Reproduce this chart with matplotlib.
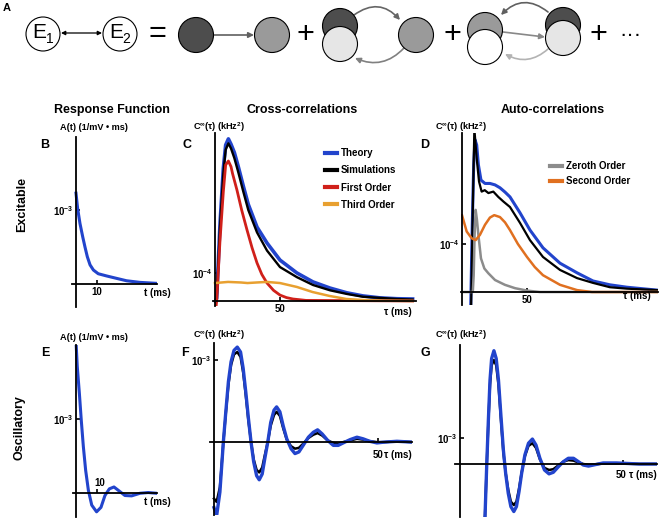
import matplotlib
matplotlib.use('Agg')
import matplotlib.pyplot as plt
from matplotlib.patches import Circle, FancyArrowPatch
import numpy as np

plt.rcParams['font.family'] = ['Liberation Sans', 'DejaVu Sans']
plt.rcParams['mathtext.fontset'] = 'custom'
plt.rcParams['mathtext.rm'] = 'Liberation Sans:bold'
plt.rcParams['mathtext.it'] = 'Liberation Sans:bold'
plt.rcParams['mathtext.bf'] = 'Liberation Sans:bold'

# ---------------- data ----------------
# B: excitable response function, A(t) in units of 1e-3 1/(mV ms)
exc_resp_t = [0, 0.8, 1.9, 3.2, 4.3, 5.4, 6.7, 8.3, 10.6, 14.6, 19.4, 24.1, 30.5, 38.4]
exc_resp_A = [1.23, 1.02, 0.82, 0.64, 0.50, 0.37, 0.26, 0.19, 0.14, 0.11, 0.077, 0.045, 0.023, 0.01]

# C: excitable cross-correlations, units of 1e-4 kHz^2
cross_tau_theory = [0.5, 1.3, 3.8, 6.4, 8.2, 10.3, 12.3, 14.9, 17.9, 21.8, 25.6, 32.3, 40, 50, 63, 75.4, 88.5, 101.5, 113.8, 127, 140, 152]
cross_theory = [0, 0.1, 2.71, 4.74, 5.57, 5.79, 5.6, 5.3, 4.8, 4.1, 3.45, 2.64, 2.07, 1.46, 1.0, 0.68, 0.46, 0.29, 0.18, 0.11, 0.08, 0.07]
cross_tau_sim = [0.5, 1.3, 3.8, 6.4, 8.2, 10.3, 12.3, 14.9, 17.9, 21.8, 25.6, 32.3, 40, 50, 63, 75.4, 88.5, 101.5, 113.8, 127, 140, 152]
cross_sim = [0, 0.1, 2.6, 4.55, 5.4, 5.63, 5.45, 5.1, 4.6, 3.9, 3.25, 2.45, 1.8, 1.21, 0.85, 0.57, 0.38, 0.25, 0.15, 0.11, 0.07, 0.05]
cross_tau_first = [0.3, 1.3, 3.8, 6.4, 8.2, 10.3, 12.3, 13.5, 16.9, 20.5, 24.6, 28.5, 32.3, 36, 40, 45, 50, 55, 60, 70, 152]
cross_first = [-0.4, 0, 2.12, 3.9, 4.86, 5.0, 4.8, 4.55, 3.96, 3.25, 2.54, 1.9, 1.36, 0.95, 0.64, 0.38, 0.21, 0.12, 0.07, 0.02, 0]
cross_tau_third = [0, 10, 20, 25, 32, 40, 50, 63, 75, 88, 101, 115, 130, 152]
cross_third = [0.64, 0.68, 0.66, 0.64, 0.66, 0.68, 0.64, 0.5, 0.32, 0.18, 0.07, 0.03, 0.01, 0]

# D: excitable auto-correlations, units of 1e-4 kHz^2
auto_tau_theory = [6.0, 6.7, 7.9, 9.0, 10.0, 11.3, 12.6, 14.6, 17.7, 21.5, 25.4, 29.2, 33.1, 36.9, 44.6, 52.3, 62.3, 75.4, 88.5, 100.8, 113.8, 126.9, 150]
auto_theory = [-1.0, -0.3, 1.40, 2.65, 3.17, 3.06, 2.65, 2.33, 2.26, 2.26, 2.23, 2.17, 2.08, 1.98, 1.65, 1.29, 0.92, 0.60, 0.40, 0.23, 0.15, 0.10, 0.04]
auto_tau_sim = [6.9, 8.0, 9.5, 11.3, 13.1, 15.1, 17.5, 20.3, 24.1, 27.9, 32, 36.9, 44.6, 52.3, 62.3, 75.4, 88.5, 100.8, 113.8, 126.9, 150]
auto_sim = [-0.5, 1.3, 3.4, 2.78, 2.30, 2.09, 2.12, 2.06, 2.09, 1.98, 1.88, 1.77, 1.44, 1.08, 0.73, 0.46, 0.29, 0.19, 0.10, 0.07, 0.04]
auto_tau_zero = [0, 8.3, 9.0, 9.7, 10.5, 11.5, 12.6, 14.6, 17.2, 20.3, 25.4, 33, 40.8, 50, 60, 150]
auto_zero = [0, 0, 0.35, 1.19, 1.71, 1.5, 1.19, 0.70, 0.49, 0.39, 0.25, 0.15, 0.08, 0.03, 0, 0]
auto_tau_second = [0, 3.6, 7.4, 10.5, 13.8, 17.7, 21.5, 24.8, 29.2, 33.1, 36.9, 43, 50, 56, 62.3, 75.4, 88.5, 100, 150]
auto_second = [1.60, 1.26, 1.12, 1.08, 1.19, 1.40, 1.55, 1.60, 1.56, 1.45, 1.29, 1.0, 0.73, 0.52, 0.35, 0.15, 0.04, 0, 0]

# E: oscillatory response function, units of 1e-3
osc_resp_t = [0, 0.6, 1.6, 2.5, 3.5, 4.6, 5.9, 7.5, 9.8, 11.9, 13.8, 15.9, 18.1, 20.6, 23.3, 26.5, 30.5, 34.4, 38.4]
osc_resp_A = [2.05, 1.71, 1.35, 0.99, 0.63, 0.31, 0.04, -0.16, -0.25, -0.19, -0.03, 0.06, 0.085, 0.03, -0.03, -0.035, 0.0, 0.01, 0]

# F: oscillatory cross-correlations, units of 1e-3 kHz^2
osc_cross_tau = [0, 0.8, 1.8, 2.3, 2.85, 3.6, 4.4, 5.2, 6.1, 7.1,
                 8.1, 8.9, 9.7, 10.5, 11.3, 12.1, 13.0, 13.8, 14.7, 15.5,
                 16.4, 17.3, 18.3, 19.1, 20.1, 21.1, 22.2, 23.5, 24.7, 25.9,
                 27.2, 28.8, 30.3, 31.6, 33.0, 34.7, 36.4, 37.9, 39.4, 41.5,
                 43.6, 45.5, 47.5, 49.7, 52, 55.8, 60.4]
osc_cross_theory = [-0.8, -0.9, -0.61, -0.32, 0, 0.37, 0.74, 0.98, 1.12, 1.16,
                    1.10, 0.90, 0.61, 0.29, 0, -0.24, -0.41, -0.46, -0.39, -0.20,
                    0, 0.24, 0.39, 0.43, 0.37, 0.20, 0.04, -0.08, -0.14, -0.12,
                    -0.04, 0.06, 0.12, 0.15, 0.10, 0.02, -0.04, -0.04, -0.01, 0.03,
                    0.06, 0.04, 0.01, -0.01, 0, 0.01, 0]
osc_cross_sim = [-0.69, -0.73, -0.55, -0.3, 0, 0.35, 0.7, 0.94, 1.07, 1.10,
                 1.04, 0.85, 0.57, 0.26, 0, -0.21, -0.34, -0.37, -0.31, -0.16,
                 0, 0.2, 0.33, 0.37, 0.32, 0.17, 0.03, -0.05, -0.08, -0.07,
                 -0.02, 0.05, 0.09, 0.11, 0.08, 0.02, -0.01, -0.02, 0, 0.02,
                 0.04, 0.03, 0.01, 0, 0, 0.01, 0]

# G: oscillatory auto-correlations, units of 1e-3 kHz^2
osc_auto_tau = [6.5, 7.67, 8.18, 8.7, 9.2, 9.7, 10.4, 11.1, 11.8, 12.5,
                13.3, 14.0, 14.8, 15.6, 16.5, 17.3, 18.1, 18.9, 19.9, 21.0,
                22.2, 23.3, 24.5, 25.9, 27.3, 28.6, 30.2, 31.7, 33.2, 34.8,
                36.3, 37.8, 39.4, 40.9, 43.9, 48, 55, 60.4]
osc_auto_theory = [-4.0, -2.03, -0.1, 1.69, 3.23, 4.06, 4.36, 4.06, 3.23, 1.95,
                   0.54, -0.36, -1.13, -1.64, -1.83, -1.64, -1.06, -0.36, 0.35, 0.80,
                   0.96, 0.73, 0.22, -0.23, -0.38, -0.32, -0.10, 0.09, 0.22, 0.22,
                   0.09, -0.04, -0.08, -0.04, 0.04, 0.04, 0, 0]
osc_auto_sim = [-4.0, -2.0, -0.1, 1.6, 3.05, 3.8, 4.0, 3.8, 3.05, 1.8,
                0.45, -0.35, -1.0, -1.45, -1.58, -1.45, -0.95, -0.33, 0.3, 0.7,
                0.8, 0.62, 0.18, -0.15, -0.23, -0.2, -0.05, 0.09, 0.15, 0.13,
                0.06, 0, -0.03, -0.02, 0.02, 0.02, 0, 0]

BLUE = '#2244cc'
BLACK = '#000000'
RED = '#d0201a'
YORANGE = '#e8a030'
ORANGE = '#e07020'
GRAY = '#8c8c8c'

# ---------------- figure ----------------
W, H = 660, 520
fig = plt.figure(figsize=(6.6, 5.2), dpi=100)

def px_axes(l, t, r, b):
    return fig.add_axes([l / W, 1 - b / H, (r - l) / W, (b - t) / H])

def ftext(x, y, s, **kw):
    kw.setdefault('ha', 'center')
    kw.setdefault('va', 'center')
    fig.text(x / W, 1 - y / H, s, **kw)

# ---- Panel A diagram ----
axA = fig.add_axes([0, 0, 1, 1], zorder=0)
axA.set_xlim(0, W)
axA.set_ylim(H, 0)
axA.axis('off')

def circ(x, y, fc, r=17.5):
    axA.add_patch(Circle((x, y), r, fc=fc, ec='black', lw=0.8, zorder=3))

def arrow(p1, p2, color, rad=0.0, style='-|>', ms=8, lw=1.2):
    axA.add_patch(FancyArrowPatch(p1, p2, arrowstyle=style, mutation_scale=ms,
                                  color=color, lw=lw, shrinkA=0, shrinkB=0,
                                  connectionstyle=f'arc3,rad={rad}', zorder=2))

DARK, MID, LIGHT = '#4d4d4d', '#9a9a9a', '#e6e6e6'
circ(43, 34, 'white', 17)
circ(120, 34, 'white', 17)
axA.text(39, 33, 'E', fontsize=15, ha='center', va='center', zorder=4)
axA.text(49.5, 39, '1', fontsize=10, ha='center', va='center', zorder=4)
axA.text(116, 33, 'E', fontsize=15, ha='center', va='center', zorder=4)
axA.text(126.5, 39, '2', fontsize=10, ha='center', va='center', zorder=4)
arrow((61, 33), (102, 33), 'black', style='<|-|>', ms=6, lw=0.9)
axA.text(157, 34, '=', fontsize=22, ha='center', va='center')
circ(196, 35, DARK)
circ(272, 35, MID)
arrow((214, 35), (254, 35), '#606060')
axA.text(305, 35, '+', fontsize=22, ha='center', va='center')
circ(340, 26, DARK)
circ(340, 44, LIGHT)
circ(416, 35, MID)
arrow((354, 15), (400, 20), '#666666', rad=-0.45)
arrow((404, 48), (355, 58), '#808080', rad=-0.35)
axA.text(452, 35, '+', fontsize=22, ha='center', va='center')
circ(485, 30, MID)
circ(485, 47, 'white')
circ(563, 25, DARK)
circ(563, 38, LIGHT)
arrow((548, 12), (501, 15), '#606060', rad=0.45)
arrow((503, 32), (545, 37), '#888888')
arrow((548, 49), (505, 54), '#b3b3b3', rad=-0.35)
axA.text(598, 35, '+', fontsize=22, ha='center', va='center')
axA.text(630, 35, '···', fontsize=16, ha='center', va='center')

# ---- panel helper ----
def setup(ax, xlim, ylim, xtick, xlabel_on, ytick, ylabel):
    ax.set_xlim(xlim)
    ax.set_ylim(ylim)
    ax.patch.set_visible(False)
    for s in ['top', 'right']:
        ax.spines[s].set_visible(False)
    for s in ['left', 'bottom']:
        ax.spines[s].set_position(('data', 0))
        ax.spines[s].set_linewidth(1.3)
    ax.set_xticks([xtick])
    ax.set_xticklabels([str(xtick)] if xlabel_on else [''])
    ax.set_yticks([ytick])
    ax.set_yticklabels([ylabel])
    ax.tick_params(direction='in', length=3, width=1.2, labelsize=7, pad=2)
    for lab in ax.get_xticklabels():
        lab.set_fontweight('bold')

LEG = dict(frameon=False, handlelength=1.25, handletextpad=0.35, borderpad=0,
           borderaxespad=0, prop={'weight': 'bold', 'size': 7})

# B
axB = px_axes(72, 137, 157, 307)
setup(axB, (-1.9, 38.6), (-0.31e-3, 1.99e-3), 10, True, 1e-3, r'$10^{-3}$')
axB.plot(exc_resp_t, np.array(exc_resp_A) * 1e-3, color=BLUE, lw=2.2)

# C
axC = px_axes(213, 133, 416, 306)
setup(axC, (-1.54, 154.6), (-0.18e-4, 6.0e-4), 50, True, 1e-4, r'$10^{-4}$')
axC.plot(cross_tau_theory, np.array(cross_theory) * 1e-4, color=BLUE, lw=2.6, label='Theory')
axC.plot(cross_tau_sim, np.array(cross_sim) * 1e-4, color=BLACK, lw=1.7, label='Simulations')
axC.plot(cross_tau_first, np.array(cross_first) * 1e-4, color=RED, lw=2.0, label='First Order')
axC.plot(cross_tau_third, np.array(cross_third) * 1e-4, color=YORANGE, lw=1.8, label='Third Order')
leg = axC.legend(loc='upper left', bbox_to_anchor=(325 / W, 1 - 148 / H),
                 bbox_transform=fig.transFigure, labelspacing=0.75, **LEG)
for l in leg.get_lines():
    l.set_linewidth(3)

# D
axD = px_axes(461, 133, 658, 305)
setup(axD, (-0.77, 150.8), (-0.27e-4, 3.31e-4), 50, True, 1e-4, r'$10^{-4}$')
axD.plot(auto_tau_theory, np.array(auto_theory) * 1e-4, color=BLUE, lw=2.2)
axD.plot(auto_tau_sim, np.array(auto_sim) * 1e-4, color=BLACK, lw=1.6)
lz, = axD.plot(auto_tau_zero, np.array(auto_zero) * 1e-4, color=GRAY, lw=1.8, label='Zeroth Order')
ls, = axD.plot(auto_tau_second, np.array(auto_second) * 1e-4, color=ORANGE, lw=1.8, label='Second Order')
legD = axD.legend(handles=[lz, ls], loc='upper left', bbox_to_anchor=(550 / W, 1 - 161 / H),
                  bbox_transform=fig.transFigure, labelspacing=0.55, **LEG)
for l in legD.get_lines():
    l.set_linewidth(3)

# E
axE = px_axes(73, 345, 157, 517)
setup(axE, (-1.43, 38.6), (-0.32e-3, 2.0e-3), 10, False, 1e-3, r'$10^{-3}$')
axE.plot(osc_resp_t, np.array(osc_resp_A) * 1e-3, color=BLUE, lw=2.2)

# F
axF = px_axes(210, 343, 412, 515)
setup(axF, (-1.22, 60.4), (-0.89e-3, 1.21e-3), 50, False, 1e-3, r'$10^{-3}$')
axF.plot(osc_cross_tau, np.array(osc_cross_sim) * 1e-3, color=BLACK, lw=1.8)
axF.plot(osc_cross_tau, np.array(osc_cross_theory) * 1e-3, color=BLUE, lw=2.4)

# G
axG = px_axes(455, 345, 657, 517)
setup(axG, (-1.53, 60.4), (-2.04e-3, 4.58e-3), 50, False, 1e-3, r'$10^{-3}$')
axG.plot(osc_auto_tau, np.array(osc_auto_sim) * 1e-3, color=BLACK, lw=1.8)
axG.plot(osc_auto_tau, np.array(osc_auto_theory) * 1e-3, color=BLUE, lw=2.4)

# ---- texts ----
ftext(7, 8, 'A', fontsize=8, fontweight='bold')
ftext(112, 110, 'Response Function', fontsize=9, fontweight='bold')
ftext(302, 110, 'Cross-correlations', fontsize=9, fontweight='bold')
ftext(553, 110, 'Auto-correlations', fontsize=9, fontweight='bold')
ftext(22, 205, 'Excitable', fontsize=9, fontweight='bold', rotation=90)
ftext(20, 428, 'Oscillatory', fontsize=9, fontweight='bold', rotation=90)

for (x, y, s) in [(45, 145, 'B'), (187, 145, 'C'), (425, 145, 'D'),
                  (45, 353, 'E'), (185, 353, 'F'), (425, 353, 'G')]:
    ftext(x, y, s, fontsize=9, fontweight='bold')

AL = 'A(t) (1/mV • ms)'
CL = r'C$^{\infty}$(τ) (kHz$^{2}$)'
ftext(94, 127, AL, fontsize=6.6, fontweight='bold')
ftext(94, 337, AL, fontsize=6.6, fontweight='bold')
ftext(219, 127, CL, fontsize=6.6, fontweight='bold')
ftext(461, 127, CL, fontsize=6.6, fontweight='bold')
ftext(219, 335, CL, fontsize=6.6, fontweight='bold')
ftext(461, 335, CL, fontsize=6.6, fontweight='bold')

ftext(157, 293, 't (ms)', fontsize=7, fontweight='bold')
ftext(398, 312, 'τ (ms)', fontsize=7, fontweight='bold')
ftext(637, 296, 'τ (ms)', fontsize=7, fontweight='bold')
ftext(157, 502, 't (ms)', fontsize=7, fontweight='bold')
ftext(100, 483, '10', fontsize=7, fontweight='bold')
ftext(378, 455, '50', fontsize=7, fontweight='bold')
ftext(398, 455, 'τ (ms)', fontsize=7, fontweight='bold')
ftext(621, 475, '50', fontsize=7, fontweight='bold')
ftext(643, 475, 'τ (ms)', fontsize=7, fontweight='bold')

fig.savefig('out.png', dpi=100)
